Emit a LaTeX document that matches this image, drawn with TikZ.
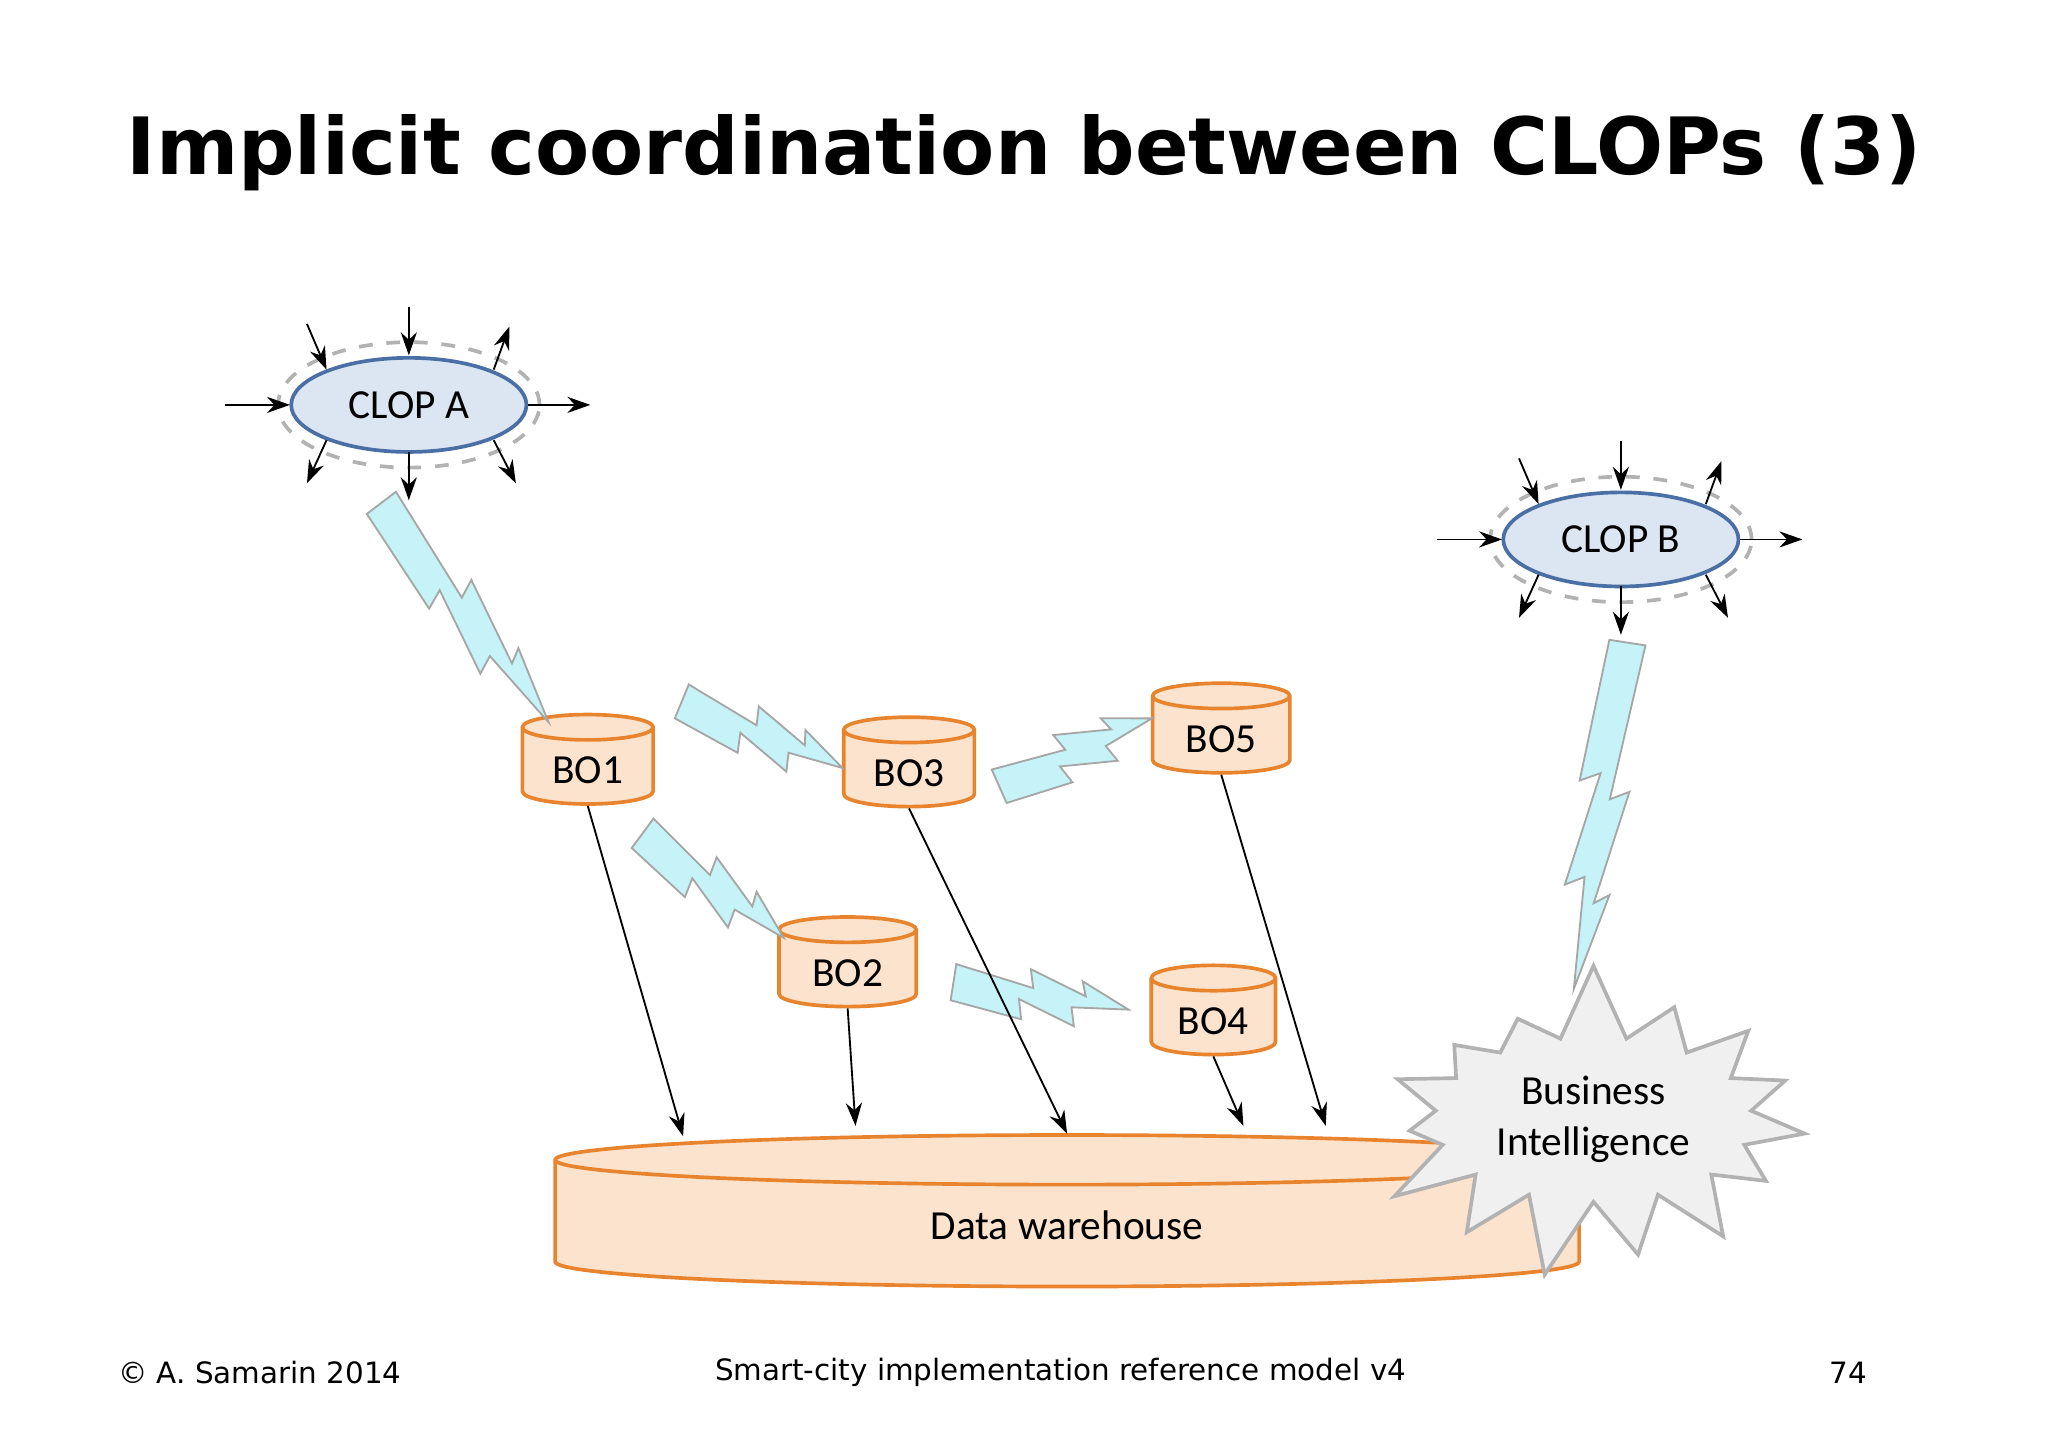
\documentclass[tikz,border=0pt]{standalone}
\usepackage{fontspec}
\setmainfont{Carlito}
\newfontfamily\titlefont{DejaVu Sans}
\usetikzlibrary{arrows.meta,calc,positioning,shapes.geometric,shapes.symbols}
\definecolor{clopfill}{HTML}{DCE5F2}
\definecolor{clopline}{HTML}{4A6FA5}
\definecolor{bofill}{HTML}{FCE3CD}
\definecolor{boline}{HTML}{E8842E}
\definecolor{zapfill}{HTML}{C6F3F7}
\tikzset{%
  clop/.style={ellipse,draw=clopline,fill=clopfill,thick,minimum width=1.8cm,minimum height=0.72cm,font=\fontsize{9}{11}\selectfont},
  halo/.style={ellipse,draw=gray!60,dashed,thick,minimum width=2cm,minimum height=0.96cm},
  bo/.style={cylinder,shape border rotate=90,aspect=0.25,draw=boline,fill=bofill,thick,minimum width=1cm,minimum height=0.68cm,font=\fontsize{9}{11}\selectfont},
  wh/.style={draw=boline,fill=bofill,thick},
  zap/.style={draw=gray!70,fill=zapfill,line join=miter},
  feed/.style={-{Stealth[length=5pt,width=3.5pt]},thin},
  flow/.style={-{Stealth[length=5pt,width=3.5pt]},thin}%
}
\newcommand{\zap}[2]{%
  \draw[zap] ($(#1)!0.14cm!90:(#2)$)
    -- ($(#1)!0.45!(#2)!0.05cm!90:(#2)$) -- ($(#1)!0.42!(#2)!0.19cm!90:(#2)$)
    -- ($(#1)!0.75!(#2)!0.05cm!90:(#2)$) -- ($(#1)!0.72!(#2)!0.16cm!90:(#2)$)
    -- (#2)
    -- ($(#1)!0.68!(#2)!-0.05cm!90:(#2)$) -- ($(#1)!0.71!(#2)!-0.19cm!90:(#2)$)
    -- ($(#1)!0.38!(#2)!-0.05cm!90:(#2)$) -- ($(#1)!0.41!(#2)!-0.2cm!90:(#2)$)
    -- ($(#1)!-0.14cm!90:(#2)$) -- cycle;}
\newcommand{\spokes}[1]{%
  \draw[feed] ($(#1)+(-78,-62)$) -- ($(#1)+(-63,-27)$);
  \draw[feed] ($(#1)+(0,-75)$) -- ($(#1)+(0,-38)$);
  \draw[feed] ($(#1)+(65,-27)$) -- ($(#1)+(77,-60)$);
  \draw[feed] ($(#1)+(-141,0)$) -- ($(#1)+(-91,0)$);
  \draw[feed] ($(#1)+(91,0)$) -- ($(#1)+(139,0)$);
  \draw[feed] ($(#1)+(-63,27)$) -- ($(#1)+(-78,60)$);
  \draw[feed] ($(#1)+(0,36)$) -- ($(#1)+(0,73)$);
  \draw[feed] ($(#1)+(65,27)$) -- ($(#1)+(82,60)$);}
\begin{document}
\begin{tikzpicture}[x=0.01cm,y=-0.01cm]
  \useasboundingbox[fill=white] (0,0) rectangle (1568,1109);
  \node (title) at (784,117) {\titlefont\bfseries\fontsize{17.2}{21}\selectfont Implicit coordination between CLOPs (3)};

  % data warehouse and business intelligence
  \draw[wh] (425,888) -- (425,966) arc[start angle=180,end angle=0,x radius=392,y radius=19]
    -- (1209,888) arc[start angle=0,end angle=-180,x radius=392,y radius=19] -- cycle;
  \draw[wh] (425,888) arc[start angle=180,end angle=0,x radius=392,y radius=19];
  \node (dw) at (817,938) {\fontsize{9}{11}\selectfont Data warehouse};
  \node (bi) [starburst,starburst points=15,starburst point height=0.6cm,random starburst=7,
    draw=gray!60,fill=gray!12,thick,minimum width=3.3cm,minimum height=1.7cm,
    align=center,font=\fontsize{9}{11}\selectfont] at (1220,857) {Business\\Intelligence};

  % clops
  \node (haloa) [halo] at (313,310) {};
  \node (clopa) [clop] at (313,310) {CLOP A};
  \spokes{clopa}
  \node (halob) [halo] at (1241,413) {};
  \node (clopb) [clop] at (1241,413) {CLOP B};
  \spokes{clopb}

  % business objects
  \node (bo1) [bo] at (450,590) {BO1};
  \node (bo3) [bo] at (696,592) {BO3};
  \node (bo5) [bo,minimum width=1.05cm] at (935,566) {BO5};
  \node (bo2) [bo,minimum width=1.05cm,minimum height=0.64cm] at (649,745) {BO2};
  \node (bo4) [bo,minimum width=0.95cm,minimum height=0.64cm] at (929,782) {BO4};

  % lightning
  \coordinate (za) at (292,385);   \coordinate (zb) at (420,553);
  \coordinate (zc) at (522,537);   \coordinate (zd) at (645,588);
  \coordinate (ze) at (765,602);   \coordinate (zf) at (882,550);
  \coordinate (zg) at (492,638);   \coordinate (zh) at (600,718);
  \coordinate (zi) at (730,752);   \coordinate (zj) at (864,773);
  \coordinate (zk) at (1246,492);  \coordinate (zl) at (1205,757);
  \zap{za}{zb} \zap{zc}{zd} \zap{ze}{zf} \zap{zg}{zh} \zap{zi}{zj} \zap{zk}{zl}

  % loading
  \coordinate (in1) at (523,870);  \coordinate (in2) at (655,862);
  \coordinate (in3) at (817,868);  \coordinate (in4) at (952,862);
  \coordinate (in5) at (1015,862);
  \draw[flow] (bo1.south) -- (in1);
  \draw[flow] (bo2.south) -- (in2);
  \draw[flow] (bo3.south) -- (in3);
  \draw[flow] (bo4.south) -- (in4);
  \draw[flow] (bo5.south) -- (in5);

  % footer
  \node (copy) [anchor=west] at (78,1051) {\titlefont\fontsize{6.4}{8}\selectfont \textcopyright{} A. Samarin 2014};
  \node (model) at (812,1051) {\titlefont\fontsize{6.4}{8}\selectfont Smart-city implementation reference model v4};
  \node (page) [anchor=east] at (1442,1051) {\titlefont\fontsize{6.4}{8}\selectfont 74};
\end{tikzpicture}
\end{document}
